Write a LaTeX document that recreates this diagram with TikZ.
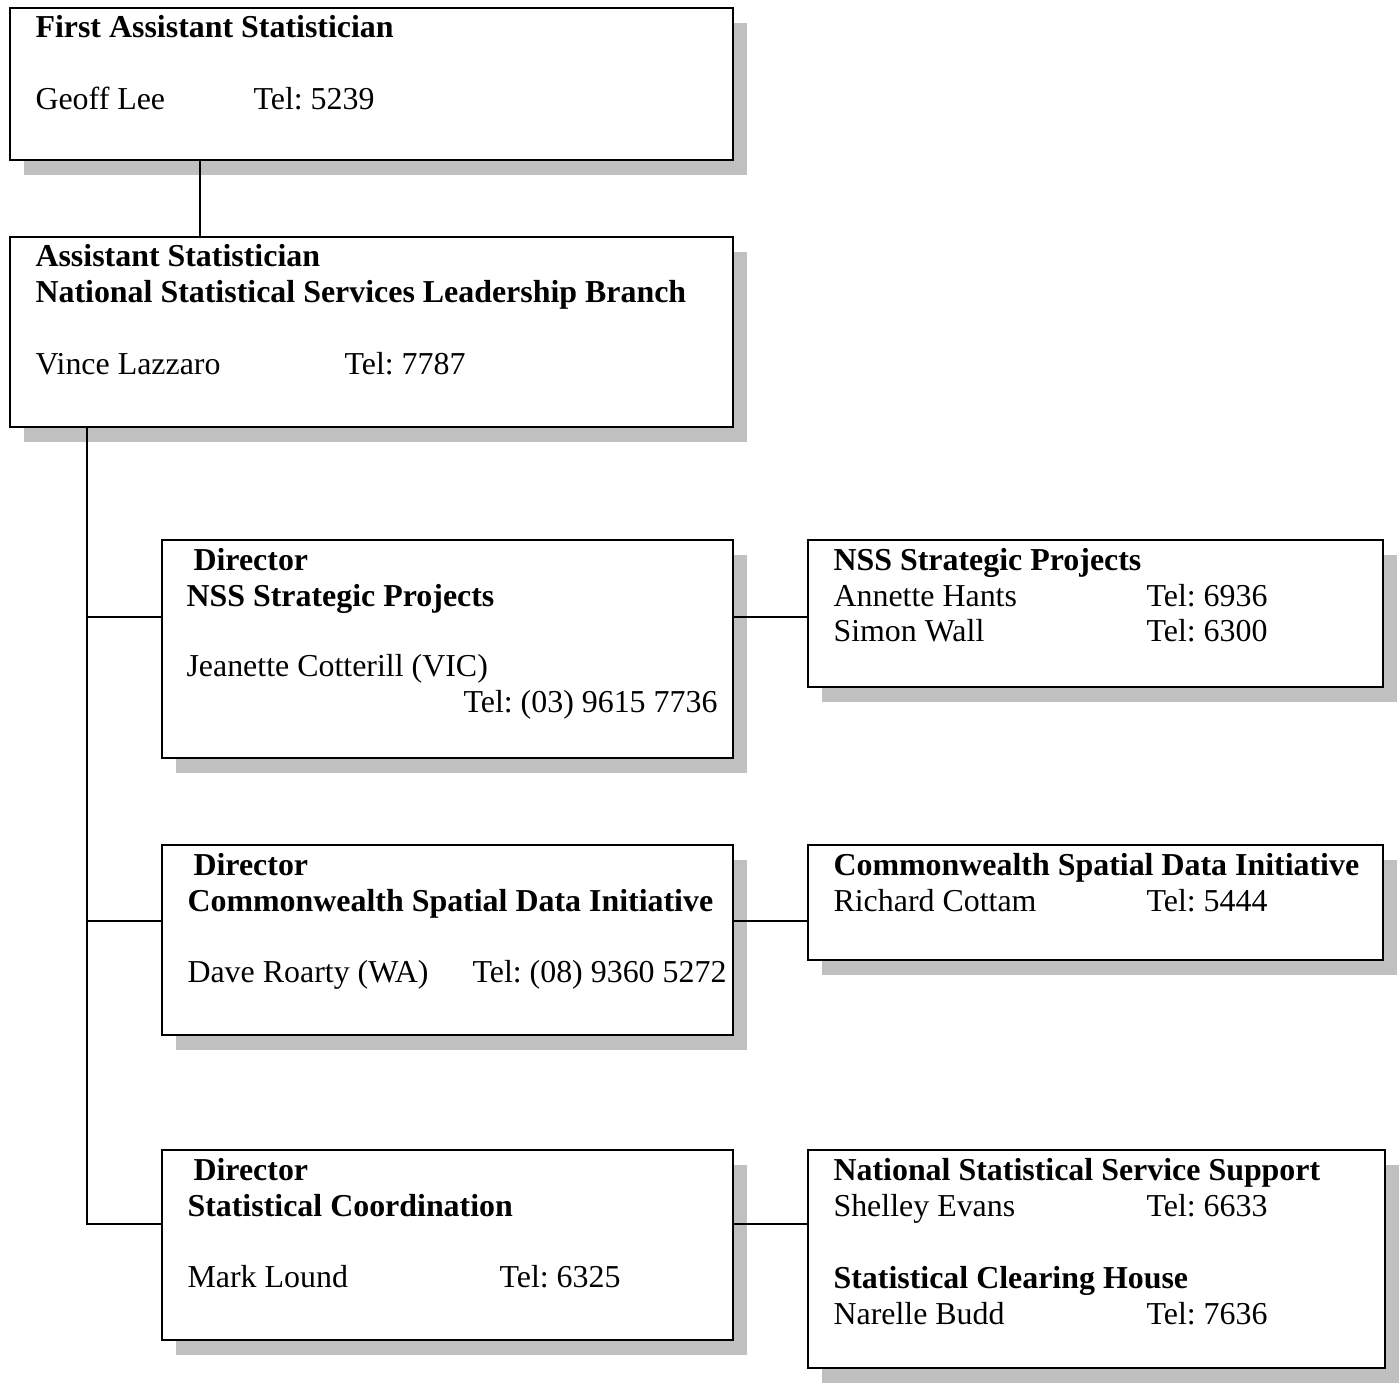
\documentclass[tikz,border=0pt]{standalone}
\usepackage{fontspec}
\setmainfont{Liberation Serif}
\usetikzlibrary{fit,shadows}
\frenchspacing

\definecolor{shadowgray}{RGB}{192,192,192}

\tikzset{
    orgbox/.style={draw, line width=0.75pt, fill=white, inner sep=0pt,
        drop shadow={shadow xshift=5.3pt, shadow yshift=-5.5pt, fill=shadowgray, opacity=1}},
    txt/.style={anchor=base west, inner sep=0pt, font=\fontsize{12pt}{13.5pt}\selectfont},
    hd/.style={txt, font=\fontsize{12pt}{13.5pt}\selectfont\bfseries},
    link/.style={line width=0.5pt}
}

\begin{document}
\begin{tikzpicture}[x=0.376pt, y=-0.376pt]
    \useasboundingbox (0,0) rectangle (1400,1383);

    % boxes
    \node[orgbox, fit={(10,8) (733,160)}] (fas) {};
    \node[orgbox, fit={(10,237) (733,427)}] (asst) {};
    \node[orgbox, fit={(162,540) (733,758)}] (dirnss) {};
    \node[orgbox, fit={(808,540) (1383,687)}] (nss) {};
    \node[orgbox, fit={(162,845) (733,1035)}] (dircsdi) {};
    \node[orgbox, fit={(808,845) (1383,960)}] (csdi) {};
    \node[orgbox, fit={(162,1150) (733,1340)}] (dirsc) {};
    \node[orgbox, fit={(808,1150) (1385,1368)}] (nsss) {};

    % texts
    \node[hd] (fas-title) at (35,37) {First Assistant Statistician};
    \node[txt] (fas-name) at (35,109) {Geoff Lee};
    \node[txt] (fas-tel) at (253,109) {Tel: 5239};

    \node[hd] (asst-title) at (35,266) {Assistant Statistician};
    \node[hd] (asst-branch) at (35,302) {National Statistical Services Leadership Branch};
    \node[txt] (asst-name) at (35,374) {Vince Lazzaro};
    \node[txt] (asst-tel) at (344,374) {Tel: 7787};

    \node[hd] (dirnss-title) at (193,570) {Director};
    \node[hd] (dirnss-unit) at (186,606) {NSS Strategic Projects};
    \node[txt] (dirnss-name) at (186,676) {Jeanette Cotterill (VIC)};
    \node[txt, anchor=base east] (dirnss-tel) at (718,712) {Tel: (03) 9615 7736};

    \node[hd] (nss-title) at (833,570) {NSS Strategic Projects};
    \node[txt] (nss-name1) at (833,606) {Annette Hants};
    \node[txt] (nss-tel1) at (1146,606) {Tel: 6936};
    \node[txt] (nss-name2) at (833,641) {Simon Wall};
    \node[txt] (nss-tel2) at (1146,641) {Tel: 6300};

    \node[hd] (dircsdi-title) at (193,875) {Director};
    \node[hd] (dircsdi-unit) at (187,911) {Commonwealth Spatial Data Initiative};
    \node[txt] (dircsdi-name) at (187,982) {Dave Roarty (WA)};
    \node[txt] (dircsdi-tel) at (472,982) {Tel: (08) 9360 5272};

    \node[hd] (csdi-title) at (833,875) {Commonwealth Spatial Data Initiative};
    \node[txt] (csdi-name) at (833,911) {Richard Cottam};
    \node[txt] (csdi-tel) at (1146,911) {Tel: 5444};

    \node[hd] (dirsc-title) at (193,1180) {Director};
    \node[hd] (dirsc-unit) at (187,1216) {Statistical Coordination};
    \node[txt] (dirsc-name) at (187,1287) {Mark Lound};
    \node[txt] (dirsc-tel) at (499,1287) {Tel: 6325};

    \node[hd] (nsss-title1) at (833,1180) {National Statistical Service Support};
    \node[txt] (nsss-name1) at (833,1216) {Shelley Evans};
    \node[txt] (nsss-tel1) at (1146,1216) {Tel: 6633};
    \node[hd] (nsss-title2) at (833,1288) {Statistical Clearing House};
    \node[txt] (nsss-name2) at (833,1324) {Narelle Budd};
    \node[txt] (nsss-tel2) at (1146,1324) {Tel: 7636};

    % connectors
    \coordinate (drop) at (200,0);
    \coordinate (trunk) at (87,0);
    \coordinate (row1) at (0,617);
    \coordinate (row2) at (0,921);
    \coordinate (row3) at (0,1224);

    \draw[link] (fas.south -| drop) -- (asst.north -| drop);
    \draw[link] (asst.south -| trunk) -- (trunk |- row3) -- (row3 -| dirsc.west);
    \draw[link] (trunk |- row1) -- (row1 -| dirnss.west);
    \draw[link] (trunk |- row2) -- (row2 -| dircsdi.west);
    \draw[link] (row1 -| dirnss.east) -- (row1 -| nss.west);
    \draw[link] (row2 -| dircsdi.east) -- (row2 -| csdi.west);
    \draw[link] (row3 -| dirsc.east) -- (row3 -| nsss.west);
\end{tikzpicture}
\end{document}
